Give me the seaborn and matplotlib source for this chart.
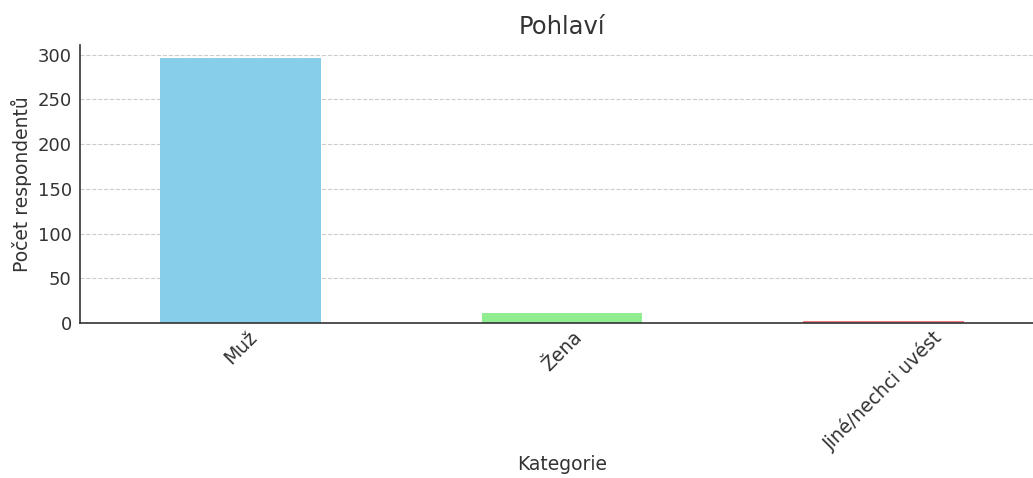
import matplotlib
matplotlib.use("Agg")
import matplotlib.pyplot as plt
import seaborn as sns
import pandas as pd

categories = ["Muž", "Žena", "Jiné/nechci uvést"]
counts = [296, 11, 2]
colors = ["skyblue", "lightgreen", "lightcoral"]
yticks = [0, 50, 100, 150, 200, 250, 300]

sns.set_style("white")
plt.rcParams['font.family'] = ['DejaVu Sans']

df = pd.DataFrame({"Kategorie": categories, "Počet": counts})

fig = plt.figure(figsize=(10.33, 4.78), dpi=100)
ax = fig.add_axes([0.0775, 0.324, 0.933, 0.582])
for v in yticks[1:]:
    ax.axhline(v, linestyle="--", color="#cccccc", linewidth=0.8, zorder=0)
sns.barplot(data=df, x="Kategorie", y="Počet", hue="Kategorie",
            palette=colors, width=0.5, ax=ax, legend=False, saturation=1,
            linewidth=0)
ax.set_xlim(-0.5, 2.5)
ax.set_ylim(0, 311)
ax.set_yticks(yticks)
ax.set_axisbelow(False)
for s in ["top", "right"]:
    ax.spines[s].set_visible(False)
for s in ["left", "bottom"]:
    ax.spines[s].set_color("#333333")
    ax.spines[s].set_linewidth(1.2)
ax.tick_params(axis="both", direction="in", length=5, colors="#333333",
               labelsize=13, labelcolor="#333333")
ax.tick_params(axis="y", length=0, pad=6)
ax.tick_params(axis="x", pad=3)
plt.setp(ax.get_xticklabels(), rotation=45, ha="center", fontsize=13.5)
ax.set_xlabel("Kategorie", fontsize=13.5, color="#333333", labelpad=1)
ax.set_ylabel("Počet respondentů", fontsize=13.5, color="#333333")
ax.set_title("Pohlaví", fontsize=17.5, color="#333333", pad=8)
fig.savefig("out.png", dpi=100)
